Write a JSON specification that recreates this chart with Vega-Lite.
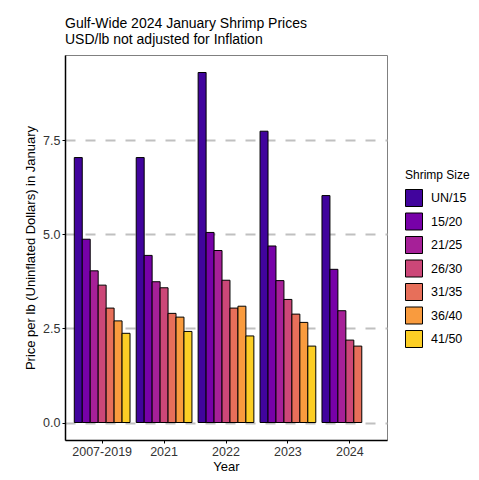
{
  "$schema": "https://vega.github.io/schema/vega-lite/v6.json",
  "width": 322,
  "height": 385,
  "autosize": {"type": "none"},
  "padding": {"left": 65, "top": 55, "right": 92, "bottom": 40},
  "background": "white",
  "title": {
    "text": "Gulf-Wide 2024 January Shrimp Prices",
    "subtitle": "USD/lb not adjusted for Inflation",
    "anchor": "start",
    "frame": "group",
    "font": "Liberation Sans",
    "fontSize": 14,
    "fontWeight": "normal",
    "color": "black",
    "subtitleFont": "Liberation Sans",
    "subtitleFontSize": 14,
    "subtitleColor": "black",
    "subtitlePadding": 2,
    "offset": 8
  },
  "data": {
    "values": [
      {"year": "2007-2019", "size": "UN/15", "price": 7.04},
      {"year": "2007-2019", "size": "15/20", "price": 4.87},
      {"year": "2007-2019", "size": "21/25", "price": 4.03},
      {"year": "2007-2019", "size": "26/30", "price": 3.65},
      {"year": "2007-2019", "size": "31/35", "price": 3.04},
      {"year": "2007-2019", "size": "36/40", "price": 2.70},
      {"year": "2007-2019", "size": "41/50", "price": 2.37},
      {"year": "2021", "size": "UN/15", "price": 7.04},
      {"year": "2021", "size": "15/20", "price": 4.44},
      {"year": "2021", "size": "21/25", "price": 3.74},
      {"year": "2021", "size": "26/30", "price": 3.58},
      {"year": "2021", "size": "31/35", "price": 2.90},
      {"year": "2021", "size": "36/40", "price": 2.80},
      {"year": "2021", "size": "41/50", "price": 2.42},
      {"year": "2022", "size": "UN/15", "price": 9.30},
      {"year": "2022", "size": "15/20", "price": 5.05},
      {"year": "2022", "size": "21/25", "price": 4.57},
      {"year": "2022", "size": "26/30", "price": 3.78},
      {"year": "2022", "size": "31/35", "price": 3.04},
      {"year": "2022", "size": "36/40", "price": 3.09},
      {"year": "2022", "size": "41/50", "price": 2.30},
      {"year": "2023", "size": "UN/15", "price": 7.74},
      {"year": "2023", "size": "15/20", "price": 4.69},
      {"year": "2023", "size": "21/25", "price": 3.77},
      {"year": "2023", "size": "26/30", "price": 3.27},
      {"year": "2023", "size": "31/35", "price": 2.88},
      {"year": "2023", "size": "36/40", "price": 2.66},
      {"year": "2023", "size": "41/50", "price": 2.03},
      {"year": "2024", "size": "UN/15", "price": 6.03},
      {"year": "2024", "size": "15/20", "price": 4.07},
      {"year": "2024", "size": "21/25", "price": 2.97},
      {"year": "2024", "size": "26/30", "price": 2.19},
      {"year": "2024", "size": "31/35", "price": 2.03}
    ]
  },
  "mark": {"type": "bar", "stroke": "black", "strokeWidth": 1, "opacity": 1},
  "encoding": {
    "x": {
      "field": "year",
      "type": "nominal",
      "sort": ["2007-2019", "2021", "2022", "2023", "2024"],
      "scale": {"paddingInner": 0.1, "paddingOuter": 0.15},
      "title": "Year",
      "axis": {"labelAngle": 0, "labelPadding": 2, "titlePadding": 3}
    },
    "xOffset": {
      "field": "size",
      "type": "nominal",
      "sort": ["UN/15", "15/20", "21/25", "26/30", "31/35", "36/40", "41/50"],
      "scale": {"paddingInner": 0, "paddingOuter": 0}
    },
    "y": {
      "field": "price",
      "type": "quantitative",
      "scale": {"domain": [-0.465, 9.765], "nice": false, "zero": false},
      "title": "Price per lb (Uninflated Dollars) in January",
      "axis": {"values": [0, 2.5, 5, 7.5], "format": ".1f", "grid": true, "labelPadding": 2, "titlePadding": 5}
    },
    "color": {
      "field": "size",
      "type": "nominal",
      "title": "Shrimp Size",
      "scale": {
        "domain": ["UN/15", "15/20", "21/25", "26/30", "31/35", "36/40", "41/50"],
        "range": ["#41049D", "#7701A8", "#A62098", "#CC4778", "#E76F5A", "#F99B3E", "#FCCE25"]
      },
      "legend": {
        "orient": "none",
        "legendX": 340,
        "legendY": 115,
        "symbolType": "square",
        "symbolSize": 289,
        "symbolStrokeColor": "black",
        "symbolStrokeWidth": 1,
        "symbolOpacity": 1,
        "labelOffset": 8,
        "rowPadding": 1.5,
        "titlePadding": 7,
        "padding": 0
      }
    }
  },
  "config": {
    "font": "Liberation Sans",
    "view": {"stroke": "#808080", "strokeWidth": 1},
    "axis": {
      "domainColor": "black",
      "domainWidth": 1.5,
      "tickColor": "black",
      "tickSize": 3,
      "tickWidth": 1,
      "labelFont": "Liberation Sans",
      "labelFontSize": 12.5,
      "labelColor": "#333333",
      "titleFont": "Liberation Sans",
      "titleFontSize": 13,
      "titleFontWeight": "normal",
      "titleColor": "black",
      "grid": false
    },
    "axisY": {
      "gridColor": "#c0c0c0",
      "gridWidth": 2.2,
      "gridDash": [10, 10]
    },
    "legend": {
      "titleFont": "Liberation Sans",
      "titleFontSize": 12,
      "titleFontWeight": "normal",
      "titleColor": "black",
      "labelFont": "Liberation Sans",
      "labelFontSize": 12.5,
      "labelColor": "black"
    }
  }
}
